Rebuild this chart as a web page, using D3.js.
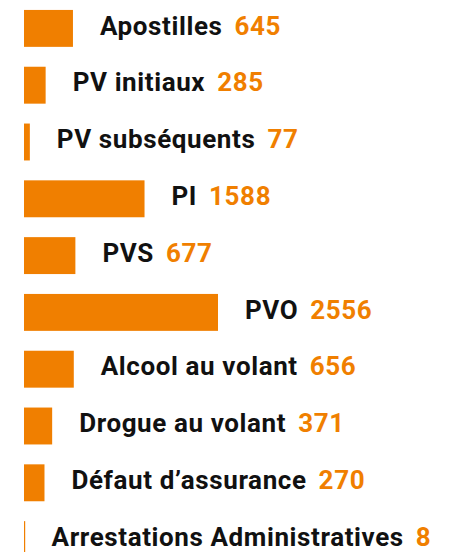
<!DOCTYPE html>
<html><head><meta charset="utf-8">
<script src="https://cdn.jsdelivr.net/npm/d3@7"></script>
<style>body{margin:0;background:#fff;}svg{display:block;}</style>
</head><body>
<div id="chart"></div>
<script>
const categories = ["Apostilles","PV initiaux","PV subséquents","PI","PVS","PVO","Alcool au volant","Drogue au volant","Défaut d’assurance","Arrestations Administratives"];
const values = [645,285,77,1588,677,2556,656,371,270,8];

const W = 471, H = 552;
const orange = "#F07F00";
const svg = d3.select("#chart").append("svg").attr("width",W).attr("height",H);

const x = d3.scaleLinear().domain([0,2556]).range([24,218]);
const y = d3.scaleBand().domain(categories).range([0,568]).paddingInner(0.35).paddingOuter(0.175);

const g = svg.append("g");
const rows = g.selectAll("g.row").data(categories.map((c,i)=>({c,v:values[i]}))).join("g");
rows.append("rect")
  .attr("x", x(0))
  .attr("y", d=>y(d.c))
  .attr("width", d=>Math.max(1.2, x(d.v)-x(0)))
  .attr("height", y.bandwidth())
  .attr("fill", orange);
const t = rows.append("text")
  .attr("x", d=>x(d.v)+27)
  .attr("y", d=>y(d.c)+y.bandwidth()/2)
  .attr("dy","0.24em")
  .style("font-family","Roboto, 'Noto Sans', sans-serif")
  .style("font-weight","700")
  .style("letter-spacing","0.6px")
  .style("font-size","26px");
t.append("tspan").attr("fill","#111").text(d=>d.c);
t.append("tspan").attr("fill",orange).attr("dx",12).text(d=>d.v);
</script>
</body></html>
